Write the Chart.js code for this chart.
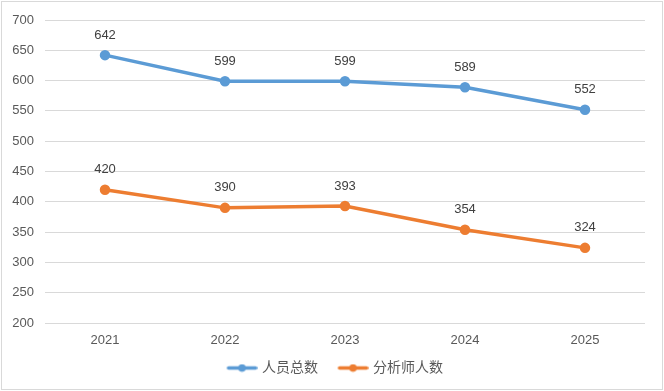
<!DOCTYPE html>
<html><head><meta charset="utf-8">
<script src="https://cdn.jsdelivr.net/npm/chart.js@4/dist/chart.umd.min.js"></script>
<style>html,body{margin:0;padding:0;background:#fff;}canvas{display:block;}</style>
</head><body>
<canvas id="c" width="664" height="391"></canvas>
<script>
const categories = ['2021', '2022', '2023', '2024', '2025'];
const totalStaff = [642, 599, 599, 589, 552];
const analysts = [420, 390, 393, 354, 324];
const seriesNames = ['人员总数', '分析师人数'];
const yTicks = [200, 250, 300, 350, 400, 450, 500, 550, 600, 650, 700];

const BLUE = '#5B9BD5', ORANGE = '#ED7D31';
const FONT = "'Liberation Sans', 'Noto Sans CJK SC', sans-serif";

function legendIcon(color) {
  const cv = document.createElement('canvas');
  cv.width = 43; cv.height = 9;
  const g = cv.getContext('2d');
  g.strokeStyle = color; g.lineWidth = 3.5; g.lineCap = 'round';
  g.beginPath(); g.moveTo(14, 4.5); g.lineTo(41, 4.5); g.stroke();
  g.fillStyle = color; g.beginPath(); g.arc(27.5, 4.5, 3.8, 0, Math.PI * 2); g.fill();
  return cv;
}

const borderPlugin = {
  id: 'outerBorder',
  afterInit(chart) {
    const lg = chart.legend;
    if (lg) {
      const origFit = lg.fit.bind(lg);
      lg.fit = function () { origFit(); this.height = 40; };
      const origDraw = lg.draw.bind(lg);
      lg.draw = function () {
        const ctx = chart.ctx;
        ctx.save(); ctx.translate(7.5, 0); origDraw(); ctx.restore();
      };
    }
  },
  beforeDraw(chart) {
    const ctx = chart.ctx;
    ctx.save();
    ctx.fillStyle = '#fff';
    ctx.fillRect(0, 0, chart.width, chart.height);
    ctx.strokeStyle = '#D9D9D9';
    ctx.lineWidth = 1;
    ctx.strokeRect(1.5, 1.5, chart.width - 3, chart.height - 3);
    ctx.restore();
  }
};

const labelPlugin = {
  id: 'valueLabels',
  afterDatasetsDraw(chart) {
    const ctx = chart.ctx;
    ctx.save();
    ctx.font = '13px ' + FONT;
    ctx.fillStyle = '#404040';
    ctx.textAlign = 'center';
    ctx.textBaseline = 'middle';
    chart.data.datasets.forEach((ds, i) => {
      chart.getDatasetMeta(i).data.forEach((pt, j) => {
        ctx.fillText(String(ds.data[j]), pt.x, pt.y - 20);
      });
    });
    ctx.restore();
  }
};

new Chart(document.getElementById('c'), {
  type: 'line',
  data: {
    labels: categories,
    datasets: [
      { label: seriesNames[0], data: totalStaff, borderColor: BLUE, backgroundColor: BLUE,
        borderWidth: 3.5, pointRadius: 3.5, pointHoverRadius: 3.5, tension: 0 },
      { label: seriesNames[1], data: analysts, borderColor: ORANGE, backgroundColor: ORANGE,
        borderWidth: 3.5, pointRadius: 3.5, pointHoverRadius: 3.5, tension: 0 }
    ]
  },
  options: {
    responsive: false,
    animation: false,
    events: [],
    layout: { padding: { left: 0, right: 19, top: 20, bottom: 0 } },
    scales: {
      x: {
        offset: true,
        grid: { display: false, drawTicks: false },
        border: { display: false },
        ticks: { color: '#595959', font: { size: 13, family: FONT }, padding: 10 },
        afterFit(s) { s.height = 28; }
      },
      y: {
        min: 200, max: 700,
        afterBuildTicks(s) { s.ticks = yTicks.map(v => ({ value: v })); },
        grid: { color: '#D9D9D9', drawTicks: false, lineWidth: 1 },
        border: { display: false },
        ticks: { color: '#595959', font: { size: 13, family: FONT }, padding: 11 },
        afterFit(s) { s.width = 45; }
      }
    },
    plugins: {
      legend: {
        position: 'bottom',
        labels: {
          color: '#595959',
          font: { size: 14, family: FONT },
          usePointStyle: true,
          pointStyleWidth: 38,
          padding: 10,
          generateLabels(chart) {
            return chart.data.datasets.map((ds, i) => ({
              text: ds.label, pointStyle: legendIcon(ds.borderColor),
              fillStyle: ds.borderColor, strokeStyle: ds.borderColor, lineWidth: 0,
              fontColor: '#595959', datasetIndex: i, hidden: false
            }));
          }
        }
      },
      tooltip: { enabled: false }
    }
  },
  plugins: [borderPlugin, labelPlugin]
});
</script>
</body></html>
